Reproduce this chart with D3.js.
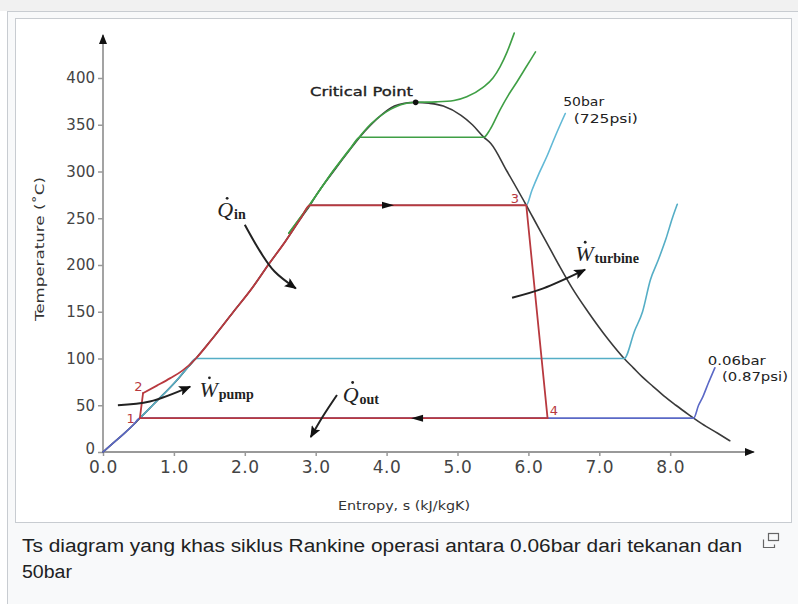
<!DOCTYPE html>
<html>
<head>
<meta charset="utf-8">
<script src="https://cdn.jsdelivr.net/npm/d3@7"></script>
<style>
  body { margin: 0; background: #fff; }
  svg { display: block; }
</style>
</head>
<body>
<div id="chart"></div>
<script>
// saturation dome of water, [s (kJ/kgK), T (°C)]
const satLiquid = [[0.0, 0.01], [0.15, 10], [0.30, 20], [0.44, 30], [0.52, 36.2], [0.57, 40], [0.70, 50],
  [0.83, 60], [0.96, 70], [1.08, 80], [1.19, 90], [1.31, 100], [1.53, 120], [1.84, 150], [2.10, 175],
  [2.33, 200], [2.57, 225], [2.79, 250], [2.92, 263.9], [3.01, 275], [3.25, 300], [3.50, 325],
  [3.62, 336.7], [3.78, 350], [3.92, 360], [4.11, 370], [4.25, 373], [4.41, 373.95]];
const satVapor = [[4.41, 373.95], [4.60, 373], [4.80, 370], [5.05, 360], [5.21, 350], [5.37, 336.7],
  [5.47, 330], [5.70, 300], [5.97, 263.9], [6.07, 250], [6.25, 225], [6.43, 200], [6.62, 175],
  [6.84, 150], [7.13, 120], [7.35, 100], [7.48, 90], [7.61, 80], [7.76, 70], [7.91, 60], [8.08, 50],
  [8.26, 40], [8.33, 36.2], [8.45, 30], [8.67, 20], [8.84, 12]];

// isobars
const isobarCritical = [[2.62, 234], [2.92, 265], [3.25, 301], [3.50, 326], [3.78, 351], [4.00, 364],
  [4.20, 371.5], [4.41, 374], [4.70, 374.5], [4.95, 376], [5.13, 380], [5.36, 390], [5.50, 400],
  [5.60, 412], [5.70, 428], [5.80, 448]];
const isobar140 = [[2.62, 234], [2.92, 265], [3.25, 301], [3.50, 325.5], [3.62, 336.7], [5.37, 336.7],
  [5.46, 345], [5.60, 366], [5.72, 382], [5.84, 396], [5.97, 412], [6.10, 428]];
const isobar50 = [[2.92, 263.9], [5.97, 263.9], [6.05, 280], [6.15, 298], [6.26, 316], [6.38, 338],
  [6.52, 362]];
const isobar1 = [[0.52, 36.2], [0.70, 50], [0.96, 70], [1.19, 90], [1.31, 100], [7.35, 100],
  [7.50, 130], [7.61, 150], [7.72, 184], [7.83, 205], [7.94, 228], [8.03, 250], [8.10, 265]];
const isobar006 = [[0.0, 0.01], [0.15, 10], [0.30, 20], [0.44, 30], [0.52, 36.2], [8.33, 36.2],
  [8.40, 50], [8.46, 59], [8.54, 74], [8.63, 90]];

// Rankine cycle: pump 1-2, heating 2-3, turbine 3-4, condenser 4-1
const pump = [[0.52, 36.2], [0.565, 63]];
const heating = [[0.565, 63], [0.76, 71], [0.95, 79], [1.12, 87], [1.31, 100], [1.53, 120],
  [1.84, 150], [2.10, 175], [2.33, 200], [2.57, 225], [2.79, 250], [2.92, 263.9], [5.97, 263.9]];
const turbine = [[5.97, 263.9], [6.27, 36.2]];
const condenser = [[6.27, 36.2], [0.52, 36.2]];
const cycleLabels = ["1", "2", "3", "4"];
const cycleLabelAt = [[0.33, 31], [0.44, 65], [5.75, 266], [6.30, 40]];
const flowArrows = [[4.02, 263.9, 1], [4.43, 36.2, -1]];

// energy arrows
const arrowQin = [[2.00, 243], [2.22, 214], [2.42, 193], [2.72, 175]];
const arrowWturbine = [[5.77, 165], [6.21, 175], [6.80, 195]];
const arrowWpump = [[0.21, 50], [0.66, 54], [1.23, 70]];
const arrowQout = [[3.30, 61], [3.10, 38], [2.93, 16]];
const energyLabels = [
  { sym: "Q", sub: "in", at: [1.61, 251] },
  { sym: "W", sub: "turbine", at: [6.66, 204] },
  { sym: "W", sub: "pump", at: [1.36, 59] },
  { sym: "Q", sub: "out", at: [3.38, 54] }
];

const xTicks = [0, 1, 2, 3, 4, 5, 6, 7, 8];
const yTicks = [0, 50, 100, 150, 200, 250, 300, 350, 400];
const criticalPoint = [4.41, 373.95];

const W = 798, H = 604;
const svg = d3.select('#chart').append('svg').attr('width', W).attr('height', H);

// wiki thumb frame
svg.append('rect').attr('x', 0).attr('y', 0).attr('width', W).attr('height', 11).attr('fill', '#f1f1f1');
svg.append('rect').attr('x', 7.5).attr('y', 11.5).attr('width', 800).attr('height', 600)
  .attr('fill', '#f8f9fa').attr('stroke', '#c8ccd1');
svg.append('rect').attr('x', 15.5).attr('y', 18.5).attr('width', 776).attr('height', 504)
  .attr('fill', '#fff').attr('stroke', '#c8ccd1');

const caption = svg.append('g')
  .attr('font-family', '"Liberation Sans", Arial, sans-serif')
  .attr('font-size', 18).attr('fill', '#202122');
caption.append('text').attr('x', 22).attr('y', 552)
  .attr('textLength', 720).attr('lengthAdjust', 'spacingAndGlyphs')
  .text('Ts diagram yang khas siklus Rankine operasi antara 0.06bar dari tekanan dan');
caption.append('text').attr('x', 22).attr('y', 578)
  .attr('textLength', 50).attr('lengthAdjust', 'spacingAndGlyphs').text('50bar');
// enlarge icon
const icon = svg.append('g').attr('fill', 'none').attr('stroke', '#666').attr('stroke-width', 1.2);
icon.append('rect').attr('x', 768.5).attr('y', 533.5).attr('width', 10).attr('height', 7);
icon.append('path').attr('d', 'M763.5,539.5 v8 h11 v-3');

const x = d3.scaleLinear().domain([0, 9]).range([103, 741.1]);
const y = d3.scaleLinear().domain([0, 400]).range([452, 78]);

const defs = svg.append('defs');
defs.append('marker').attr('id', 'axisHead').attr('viewBox', '0 0 10 8')
  .attr('refX', 9).attr('refY', 4).attr('markerWidth', 10).attr('markerHeight', 8)
  .attr('markerUnits', 'userSpaceOnUse').attr('orient', 'auto')
  .append('path').attr('d', 'M0,0 L10,4 L0,8 Z').attr('fill', '#111');
defs.append('marker').attr('id', 'head').attr('viewBox', '0 0 12 10')
  .attr('refX', 11).attr('refY', 5).attr('markerWidth', 12).attr('markerHeight', 10)
  .attr('markerUnits', 'userSpaceOnUse').attr('orient', 'auto')
  .append('path').attr('d', 'M0,0 L12,5 L0,10 L2.5,5 Z').attr('fill', '#111');

// axes
const axisFont = '"DejaVu Sans", Verdana, sans-serif';
const gy = svg.append('g').attr('transform', `translate(${x(0)},0)`)
  .call(d3.axisLeft(y).tickValues(yTicks).tickSize(5).tickPadding(3).tickFormat(d3.format('d')));
const gx = svg.append('g').attr('transform', `translate(0,${y(0)})`)
  .call(d3.axisBottom(x).tickValues(xTicks).tickSize(4).tickPadding(5).tickFormat(d3.format('.1f')));
[gy, gx].forEach(g => {
  g.select('.domain').remove();
  g.selectAll('.tick line').attr('stroke', '#999').attr('stroke-width', 1.5);
  g.selectAll('.tick text').attr('font-family', axisFont).attr('fill', '#444');
});
gy.selectAll('.tick text').attr('font-size', 15).attr('dy', d => d === 0 ? '0.1em' : '0.32em');
gx.selectAll('.tick text').attr('font-size', 17).attr('letter-spacing', 0.6);

svg.append('line').attr('x1', x(0)).attr('y1', y(0)).attr('x2', x(9.18)).attr('y2', y(0))
  .attr('stroke', '#999').attr('stroke-width', 1.8).attr('marker-end', 'url(#axisHead)');
svg.append('line').attr('x1', x(0)).attr('y1', y(0)).attr('x2', x(0)).attr('y2', y(446))
  .attr('stroke', '#999').attr('stroke-width', 1.8).attr('marker-end', 'url(#axisHead)');

svg.append('text').attr('transform', `translate(44,${y(217)}) rotate(-90)`)
  .attr('text-anchor', 'middle').attr('font-family', axisFont).attr('font-size', 13)
  .attr('fill', '#333').attr('textLength', 144).attr('lengthAdjust', 'spacingAndGlyphs')
  .text('Temperature (˚C)');
svg.append('text').attr('x', 404).attr('y', 510)
  .attr('text-anchor', 'middle').attr('font-family', axisFont).attr('font-size', 13)
  .attr('fill', '#333').attr('textLength', 132).attr('lengthAdjust', 'spacingAndGlyphs')
  .text('Entropy, s  (kJ/kgK)');

// curves
const smooth = d3.line().x(d => x(d[0])).y(d => y(d[1])).curve(d3.curveMonotoneX);
const straight = d3.line().x(d => x(d[0])).y(d => y(d[1]));
const plot = g => g.attr('fill', 'none').attr('stroke-linejoin', 'round').attr('stroke-linecap', 'round');

svg.append('path').datum(satLiquid.concat(satVapor.slice(1))).call(plot)
  .attr('d', smooth).attr('stroke', '#3a3a3a').attr('stroke-width', 1.6);
[[isobarCritical, '#3f9f45'], [isobar140, '#3f9f45'], [isobar50, '#62b9d6'],
 [isobar1, '#55aec6'], [isobar006, '#5a68c6']].forEach(([data, color]) => {
  svg.append('path').datum(data).call(plot).attr('d', smooth)
    .attr('stroke', color).attr('stroke-width', 1.6);
});
const red = '#b8393f';
svg.append('path').datum(heating).call(plot).attr('d', smooth).attr('stroke', red).attr('stroke-width', 1.8);
[pump, turbine, condenser].forEach(seg => {
  svg.append('path').datum(seg).call(plot).attr('d', straight).attr('stroke', red).attr('stroke-width', 1.8);
});

// flow direction triangles on the cycle
svg.selectAll('.flow').data(flowArrows).enter().append('path')
  .attr('transform', d => `translate(${x(d[0])},${y(d[1])}) scale(${d[2]},1)`)
  .attr('d', 'M6,0 L-6,-3.5 L-6,3.5 Z').attr('fill', '#111');

svg.selectAll('.cyc').data(cycleLabels).enter().append('text')
  .attr('x', (d, i) => x(cycleLabelAt[i][0])).attr('y', (d, i) => y(cycleLabelAt[i][1]))
  .attr('font-family', axisFont).attr('font-size', 13).attr('fill', red)
  .text(d => d);

svg.append('circle').attr('cx', x(criticalPoint[0])).attr('cy', y(criticalPoint[1]))
  .attr('r', 2.8).attr('fill', '#111');

// energy arrows
const curved = d3.line().x(d => x(d[0])).y(d => y(d[1])).curve(d3.curveCatmullRom);
[arrowQin, arrowWturbine, arrowWpump, arrowQout].forEach(a => {
  svg.append('path').datum(a).attr('d', curved).attr('fill', 'none')
    .attr('stroke', '#222').attr('stroke-width', 2).attr('marker-end', 'url(#head)');
});

const serif = '"Liberation Serif", "Times New Roman", serif';
energyLabels.forEach(l => {
  const t = svg.append('text').attr('x', x(l.at[0])).attr('y', y(l.at[1]))
    .attr('font-family', serif).attr('fill', '#222');
  t.append('tspan').attr('font-style', 'italic').attr('font-size', 22).text(l.sym);
  t.append('tspan').attr('font-size', 14).attr('font-weight', 'bold').attr('dx', 1).attr('dy', 2).text(l.sub);
  // time-derivative dot over the symbol
  svg.append('circle').attr('cx', x(l.at[0]) + 10).attr('cy', y(l.at[1]) - 19)
    .attr('r', 1.4).attr('fill', '#222');
});

// annotations
const note = (txt, sx, ty, len) => svg.append('text').attr('x', x(sx)).attr('y', y(ty))
  .attr('font-family', axisFont).attr('font-size', 13).attr('fill', '#222')
  .attr('textLength', len).attr('lengthAdjust', 'spacingAndGlyphs').text(txt);
note('Critical Point', 2.92, 381, 103).attr('stroke', '#222').attr('stroke-width', 0.35);
note('50bar', 6.49, 370, 41);
note('(725psi)', 6.64, 352, 64);
note('0.06bar', 8.53, 93, 58);
note('(0.87psi)', 8.73, 76, 66);
</script>
</body>
</html>
